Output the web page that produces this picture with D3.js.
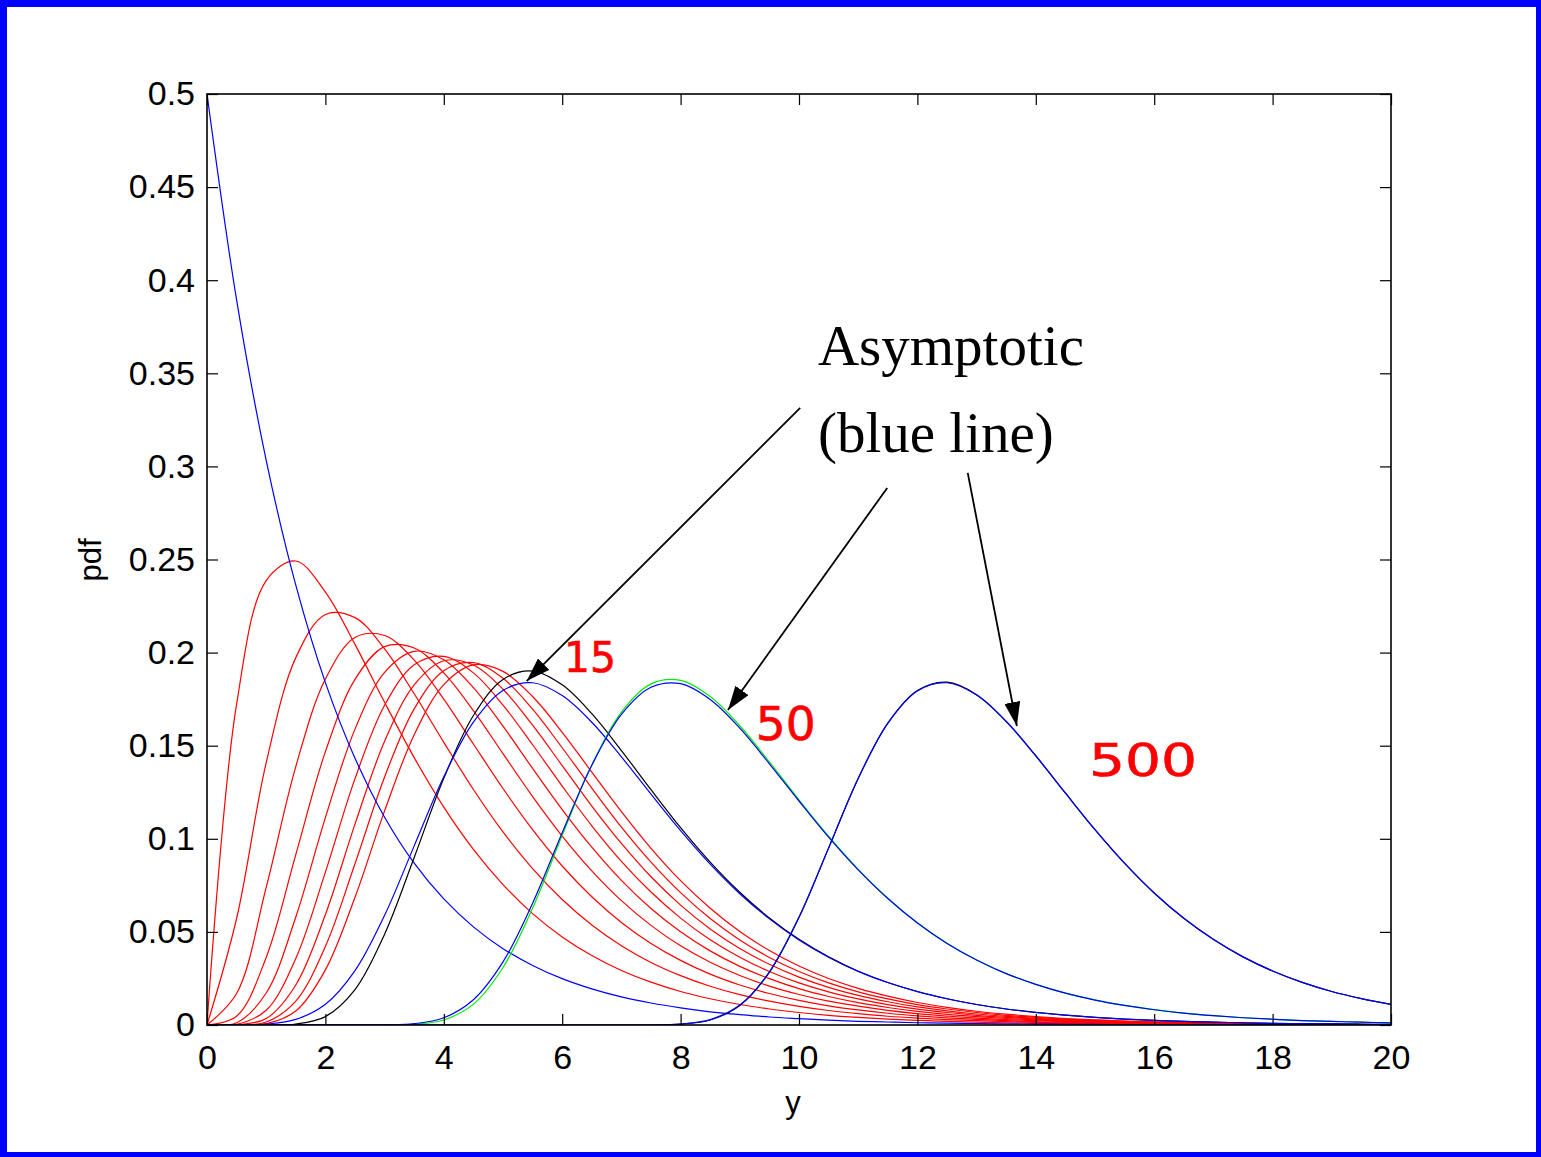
<!DOCTYPE html>
<html><head><meta charset="utf-8">
<script src="https://cdn.jsdelivr.net/npm/d3@7"></script>
<style>html,body{margin:0;padding:0;background:#fff;} svg{display:block;}</style>
</head><body>
<svg id="chart" width="1541" height="1157"></svg>
<script>
// ---- data ----
const X = [0,0.5,1,1.5,2,2.5,3,3.5,4,4.5,5,5.5,6,6.5,7,7.5,8,8.5,9,9.5,10,10.5,11,11.5,12,12.5,13,13.5,14,14.5,15,15.5,16,16.5,17,17.5,18,18.5,19,19.5,20];
const xTickLabels = ["0","2","4","6","8","10","12","14","16","18","20"];
const yTickLabels = ["0","0.05","0.1","0.15","0.2","0.25","0.3","0.35","0.4","0.45","0.5"];

const exp1 = [0.5000,0.3894,0.3033,0.2362,0.1839,0.1433,0.1116,0.0869,0.0677,0.0527,0.0410,0.0320,0.0249,0.0194,0.0151,0.0118,0.0092,0.0071,0.0056,0.0043,0.0034,0.0026,0.0020,0.0016,0.0012,0.0010,0.0008,0.0006,0.0005,0.0004,0.0003,0.0002,0.0002,0.0001,0.0001,0.0001,0.0001,0.0000,0.0000,0.0000,0.0000];
const max2 = [0,0.1723,0.2387,0.2492,0.2325,0.2044,0.1733,0.1436,0.1170,0.0943,0.0754,0.0598,0.0473,0.0373,0.0293,0.0230,0.0180,0.0141,0.0110,0.0086,0.0067,0.0052,0.0041,0.0032,0.0025,0.0019,0.0015,0.0012,0.0009,0.0007,0.0006,0.0004,0.0003,0.0003,0.0002,0.0002,0.0001,0.0001,0.0001,0.0001,0.0000];
const max3 = [0,0.0572,0.1409,0.1973,0.2205,0.2188,0.2020,0.1779,0.1518,0.1265,0.1037,0.0840,0.0674,0.0537,0.0426,0.0336,0.0265,0.0208,0.0163,0.0128,0.0100,0.0078,0.0061,0.0047,0.0037,0.0029,0.0023,0.0018,0.0014,0.0011,0.0008,0.0007,0.0005,0.0004,0.0003,0.0002,0.0002,0.0001,0.0001,0.0001,0.0001];
const max4 = [0,0.0169,0.0739,0.1388,0.1858,0.2081,0.2092,0.1960,0.1750,0.1509,0.1270,0.1049,0.0854,0.0689,0.0551,0.0438,0.0347,0.0273,0.0215,0.0169,0.0132,0.0103,0.0081,0.0063,0.0049,0.0038,0.0030,0.0023,0.0018,0.0014,0.0011,0.0009,0.0007,0.0005,0.0004,0.0003,0.0002,0.0002,0.0002,0.0001,0.0001];
const max5 = [0,0.0047,0.0363,0.0915,0.1468,0.1856,0.2032,0.2025,0.1891,0.1688,0.1457,0.1227,0.1015,0.0828,0.0668,0.0535,0.0425,0.0337,0.0266,0.0209,0.0164,0.0128,0.0101,0.0079,0.0061,0.0048,0.0037,0.0029,0.0023,0.0018,0.0014,0.0011,0.0008,0.0007,0.0005,0.0004,0.0003,0.0002,0.0002,0.0001,0.0001];
const max6 = [0,0.0012,0.0172,0.0580,0.1114,0.1589,0.1894,0.2007,0.1962,0.1812,0.1605,0.1378,0.1157,0.0955,0.0777,0.0626,0.0501,0.0398,0.0315,0.0249,0.0195,0.0153,0.0120,0.0094,0.0073,0.0057,0.0045,0.0035,0.0027,0.0021,0.0017,0.0013,0.0010,0.0008,0.0006,0.0005,0.0004,0.0003,0.0002,0.0002,0.0001];
const max7 = [0,0.0003,0.0079,0.0357,0.0821,0.1323,0.1717,0.1935,0.1980,0.1891,0.1718,0.1505,0.1283,0.1070,0.0879,0.0714,0.0574,0.0458,0.0364,0.0287,0.0226,0.0178,0.0140,0.0109,0.0085,0.0067,0.0052,0.0041,0.0032,0.0025,0.0019,0.0015,0.0012,0.0009,0.0007,0.0006,0.0004,0.0003,0.0003,0.0002,0.0002];
const max8 = [0,0.0001,0.0035,0.0215,0.0593,0.1079,0.1524,0.1827,0.1956,0.1933,0.1803,0.1610,0.1393,0.1176,0.0975,0.0796,0.0644,0.0516,0.0411,0.0326,0.0257,0.0202,0.0159,0.0125,0.0097,0.0076,0.0059,0.0046,0.0036,0.0028,0.0022,0.0017,0.0013,0.0010,0.0008,0.0006,0.0005,0.0004,0.0003,0.0002,0.0002];
const max9 = [0,0.0000,0.0016,0.0128,0.0422,0.0866,0.1332,0.1698,0.1903,0.1946,0.1862,0.1696,0.1489,0.1272,0.1063,0.0875,0.0711,0.0572,0.0457,0.0363,0.0287,0.0226,0.0178,0.0140,0.0109,0.0086,0.0067,0.0052,0.0041,0.0032,0.0025,0.0019,0.0015,0.0012,0.0009,0.0007,0.0006,0.0004,0.0003,0.0003,0.0002];
const max10 = [0,0.0000,0.0007,0.0075,0.0296,0.0686,0.1150,0.1559,0.1828,0.1934,0.1899,0.1764,0.1572,0.1358,0.1146,0.0949,0.0775,0.0627,0.0502,0.0400,0.0317,0.0250,0.0197,0.0155,0.0121,0.0095,0.0074,0.0058,0.0045,0.0035,0.0028,0.0021,0.0017,0.0013,0.0010,0.0008,0.0006,0.0005,0.0004,0.0003,0.0002];
const max15 = [0,0,0.0000,0.0005,0.0045,0.0190,0.0488,0.0900,0.1325,0.1662,0.1856,0.1901,0.1827,0.1672,0.1474,0.1264,0.1060,0.0875,0.0713,0.0575,0.0460,0.0366,0.0289,0.0228,0.0180,0.0141,0.0110,0.0086,0.0068,0.0053,0.0041,0.0032,0.0025,0.0020,0.0015,0.0012,0.0009,0.0007,0.0006,0.0004,0.0003];
const asym15 = [0,0,0.0005,0.0030,0.0111,0.0292,0.0589,0.0962,0.1333,0.1627,0.1797,0.1838,0.1769,0.1626,0.1440,0.1240,0.1044,0.0864,0.0705,0.0570,0.0457,0.0364,0.0288,0.0228,0.0179,0.0141,0.0110,0.0086,0.0067,0.0053,0.0041,0.0032,0.0025,0.0020,0.0015,0.0012,0.0009,0.0007,0.0006,0.0004,0.0003];
const max50 = [0,0,0,0,0,0,0.0000,0.0004,0.0027,0.0112,0.0309,0.0628,0.1019,0.1396,0.1680,0.1832,0.1851,0.1764,0.1607,0.1413,0.1209,0.1014,0.0836,0.0681,0.0549,0.0439,0.0349,0.0276,0.0218,0.0171,0.0135,0.0105,0.0083,0.0064,0.0050,0.0039,0.0031,0.0024,0.0019,0.0015,0.0011];
const asym50 = [0,0,0,0,0,0,0.0001,0.0007,0.0039,0.0136,0.0339,0.0654,0.1033,0.1395,0.1668,0.1814,0.1833,0.1748,0.1594,0.1403,0.1203,0.1009,0.0833,0.0679,0.0548,0.0438,0.0349,0.0276,0.0218,0.0171,0.0134,0.0105,0.0082,0.0064,0.0050,0.0039,0.0031,0.0024,0.0019,0.0015,0.0011];
const max500 = [0,0,0,0,0,0,0,0,0,0,0,0,0,0,0,0.0000,0.0005,0.0027,0.0105,0.0283,0.0577,0.0950,0.1324,0.1621,0.1796,0.1841,0.1774,0.1631,0.1446,0.1246,0.1049,0.0869,0.0709,0.0573,0.0460,0.0366,0.0290,0.0229,0.0180,0.0142,0.0111];
const asym500 = [0,0,0,0,0,0,0,0,0,0,0,0,0,0,0,0.0000,0.0005,0.0029,0.0107,0.0286,0.0580,0.0951,0.1324,0.1620,0.1794,0.1838,0.1772,0.1630,0.1445,0.1245,0.1049,0.0868,0.0709,0.0573,0.0459,0.0366,0.0290,0.0229,0.0180,0.0142,0.0111];

const redSeries = [max2,max3,max4,max5,max6,max7,max8,max9,max10];

// ---- layout ----
const svg = d3.select("#chart");
const x = d3.scaleLinear().domain([0,20]).range([207,1391]);
const y = d3.scaleLinear().domain([0,0.5]).range([1025,94]);
const tickFont = "'Liberation Sans', Arial, Helvetica, sans-serif";

// blue frame
svg.append("rect").attr("x",0).attr("y",0).attr("width",1541).attr("height",1157).attr("fill","#fff");
[[0,0,1541,7],[0,0,7,1157],[1536,0,5,1157],[0,1152,1541,5]].forEach(r=>{
  svg.append("rect").attr("x",r[0]).attr("y",r[1]).attr("width",r[2]).attr("height",r[3]).attr("fill","#0000ff");
});

svg.append("defs").append("clipPath").attr("id","plotclip")
  .append("rect").attr("x",x(0)).attr("y",y(0.5)).attr("width",x(20)-x(0)).attr("height",y(0)-y(0.5));

const line = d3.line().x((d,i)=>x(X[i])).y(d=>y(d)).curve(d3.curveCatmullRom.alpha(0.5));
const curves = svg.append("g").attr("clip-path","url(#plotclip)");
function draw(arr,color,w){
  curves.append("path").datum(arr).attr("d",line).attr("fill","none")
    .attr("stroke",color).attr("stroke-width",w||1.2).attr("stroke-linejoin","round");
}
redSeries.forEach(s=>draw(s,"#ff0000"));
draw(exp1,"#0000ff");
draw(max15,"#000000");
draw(asym15,"#0000ff");
draw(max50,"#00ee00");
draw(asym50,"#0000ff");
draw(max500,"#000000");
draw(asym500,"#0000ff");

// axes
const xt = d3.range(0,21,2), yt = d3.range(0,11).map(i=>i*0.05);
svg.append("g").attr("transform",`translate(0,${y(0)})`)
  .call(d3.axisBottom(x).tickValues(xt).tickFormat((d,i)=>xTickLabels[i]).tickSize(-11).tickSizeOuter(0).tickPadding(20));
svg.append("g").attr("transform",`translate(${x(0)},0)`)
  .call(d3.axisLeft(y).tickValues(yt).tickFormat((d,i)=>yTickLabels[i]).tickSize(-11).tickSizeOuter(0).tickPadding(12));
svg.append("g").attr("transform",`translate(0,${y(0.5)})`)
  .call(d3.axisTop(x).tickValues(xt).tickFormat("").tickSize(-11).tickSizeOuter(0));
svg.append("g").attr("transform",`translate(${x(20)},0)`)
  .call(d3.axisRight(y).tickValues(yt).tickFormat("").tickSize(-11).tickSizeOuter(0));
svg.selectAll(".domain").remove();
svg.selectAll(".tick line").attr("stroke","#000").attr("stroke-width",1.2);
svg.selectAll(".tick text").attr("font-family",tickFont).attr("font-size",34).attr("fill","#000");
svg.append("rect").attr("x",x(0)).attr("y",y(0.5)).attr("width",x(20)-x(0)).attr("height",y(0)-y(0.5))
  .attr("fill","none").attr("stroke","#000").attr("stroke-width",1.6);

// axis labels
svg.append("text").attr("x",793).attr("y",1113).attr("text-anchor","middle")
  .attr("font-family",tickFont).attr("font-size",31).text("y");
svg.append("text").attr("transform","translate(101,560) rotate(-90)").attr("text-anchor","middle")
  .attr("font-family",tickFont).attr("font-size",31).text("pdf");

// annotation
const serif = "'Liberation Serif','Times New Roman',Times,serif";
svg.append("text").attr("x",x(10.32)).attr("y",y(0.3545)).attr("font-family",serif).attr("font-size",57).text("Asymptotic");
svg.append("text").attr("x",x(10.32)).attr("y",y(0.3077)).attr("font-family",serif).attr("font-size",57).text("(blue line)");

svg.select("defs").append("marker").attr("id","ah").attr("markerUnits","userSpaceOnUse")
  .attr("viewBox","0 0 24 16").attr("refX",24).attr("refY",8).attr("markerWidth",24).attr("markerHeight",16)
  .attr("orient","auto").append("path").attr("d","M0,0 L24,8 L0,16 Z").attr("fill","#000");
const arrows = [
  {x1:10.02,y1:0.3314,x2:5.40,y2:0.1847},
  {x1:11.49,y1:0.2884,x2:8.80,y2:0.1692},
  {x1:12.85,y1:0.2965,x2:13.68,y2:0.1606}
];
arrows.forEach(a=>{
  svg.append("line").attr("x1",x(a.x1)).attr("y1",y(a.y1)).attr("x2",x(a.x2)).attr("y2",y(a.y2))
    .attr("stroke","#000").attr("stroke-width",1.8).attr("marker-end","url(#ah)");
});

// red hand-written labels
const hand = [
  {t:"15",x:6.03,y:0.1896,fs:42,len:52},
  {t:"50",x:9.27,y:0.1531,fs:46,len:60},
  {t:"500",x:14.9,y:0.1337,fs:44,len:108}
];
hand.forEach(h=>{
  svg.append("text").attr("x",x(h.x)).attr("y",y(h.y)).attr("font-family","'DejaVu Sans',sans-serif")
    .attr("font-size",h.fs).attr("fill","#ff0000").attr("stroke","#ff0000").attr("stroke-width",0.6)
    .attr("textLength",h.len).attr("lengthAdjust","spacingAndGlyphs").text(h.t);
});
</script>
</body></html>
